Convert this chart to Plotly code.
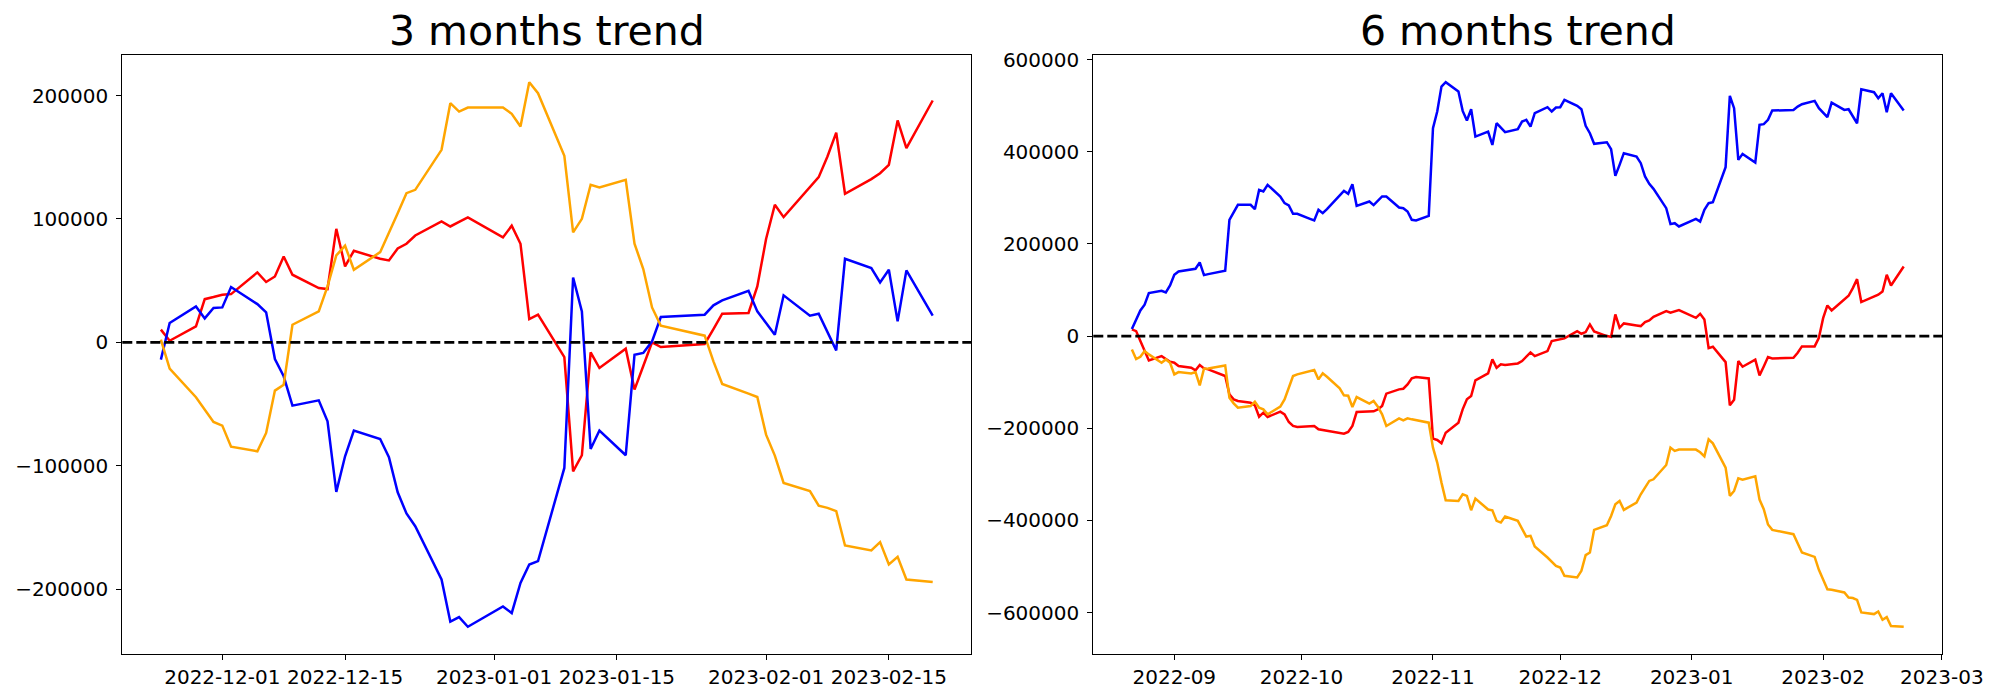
import plotly.graph_objects as go
import pandas as pd

# ---------------- data: 3 months ----------------
dates_3m = ["2022-11-24","2022-11-25","2022-11-28","2022-11-29","2022-11-30","2022-12-01","2022-12-02",
            "2022-12-05","2022-12-06","2022-12-07","2022-12-08","2022-12-09","2022-12-12","2022-12-13",
            "2022-12-14","2022-12-15","2022-12-16","2022-12-19","2022-12-20","2022-12-21","2022-12-22",
            "2022-12-23","2022-12-26","2022-12-27","2022-12-28","2022-12-29","2023-01-02","2023-01-03",
            "2023-01-04","2023-01-05","2023-01-06","2023-01-09","2023-01-10","2023-01-11","2023-01-12",
            "2023-01-13","2023-01-16","2023-01-17","2023-01-18","2023-01-19","2023-01-20","2023-01-25",
            "2023-01-26","2023-01-27","2023-01-30","2023-01-31","2023-02-01","2023-02-02","2023-02-03",
            "2023-02-06","2023-02-07","2023-02-08","2023-02-09","2023-02-10","2023-02-13","2023-02-14",
            "2023-02-15","2023-02-16","2023-02-17","2023-02-20"]
red_3m = [10300, 1300, 13000, 35000, 36700, 38600, 39100, 56700, 48900, 53400, 69600, 54800, 44000, 43200,
          92000, 61500, 74200, 67700, 66400, 76100, 79900, 86600, 98000, 93900, 97600, 101200, 85000, 94500,
          79900, 18900, 22400, -11900, -104500, -91500, -8100, -20800, -5100, -38300, -19200, 0, -3800, -1300,
          10800, 23200, 23800, 45300, 83700, 111500, 101500, 125500, 133900, 150600, 170000, 120400, 132300,
          137100, 143900, 179800, 157400, 196000]
blue_3m = [-14000, 15700, 29100, 19400, 27800, 28300, 44800, 31000, 24300, -13500, -27500, -51300, -47000, -64000,
           -121200, -92300, -71500, -78300, -93100, -121500, -138700, -149000, -192200, -226400, -222700, -230500,
           -214000, -219400, -194900, -180000, -177300, -101800, 52600, 25100, -86400, -71500, -91500, -10000,
           -8600, 800, 20500, 22400, 30000, 34000, 41800, 25100, 15700, 6200, 38100, 21600, 23200, 8900, -6500,
           67700, 60200, 48600, 58800, 17000, 58300, 21600]
orange_3m = [2200, -21300, -44500, -54500, -64500, -67500, -84500, -88300, -73400, -39100, -34300, 14300, 25100,
             45300, 70400, 78300, 58800, 73100, 88500, 104700, 120900, 123600, 156000, 193800, 187000, 190300,
             190300, 185200, 174900, 210800, 201900, 151100, 89100, 100100, 127700, 125500, 131700, 79900, 59400,
             28300, 13500, 5400, -15400, -33700, -41500, -44300, -74800, -91800, -113900, -120600, -132300,
             -134100, -136800, -164600, -168700, -161900, -180000, -173800, -192200, -194300]

# ---------------- data: 6 months ----------------
dates_6m = [
    "2022-08-22","2022-08-23","2022-08-24","2022-08-25","2022-08-26","2022-08-29","2022-08-30","2022-08-31",
    "2022-09-01","2022-09-02","2022-09-05","2022-09-06","2022-09-07","2022-09-08","2022-09-09","2022-09-12",
    "2022-09-13","2022-09-14","2022-09-15","2022-09-16","2022-09-19","2022-09-20","2022-09-21","2022-09-22",
    "2022-09-23","2022-09-26","2022-09-27","2022-09-28","2022-09-29","2022-09-30",
    "2022-10-03","2022-10-04","2022-10-05","2022-10-06","2022-10-07","2022-10-10","2022-10-11","2022-10-12",
    "2022-10-13","2022-10-14","2022-10-17","2022-10-18","2022-10-19","2022-10-20","2022-10-21","2022-10-24",
    "2022-10-25","2022-10-26","2022-10-27","2022-10-28","2022-10-31",
    "2022-11-01","2022-11-02","2022-11-03","2022-11-04","2022-11-07","2022-11-08","2022-11-09","2022-11-10",
    "2022-11-11","2022-11-14","2022-11-15","2022-11-16","2022-11-17","2022-11-18","2022-11-21","2022-11-22",
    "2022-11-23","2022-11-24","2022-11-25","2022-11-28","2022-11-29","2022-11-30",
    "2022-12-01","2022-12-02","2022-12-05","2022-12-06","2022-12-07","2022-12-08","2022-12-09","2022-12-12",
    "2022-12-13","2022-12-14","2022-12-15","2022-12-16","2022-12-19","2022-12-20","2022-12-21","2022-12-22",
    "2022-12-23","2022-12-26","2022-12-27","2022-12-28","2022-12-29",
    "2023-01-02","2023-01-03","2023-01-04","2023-01-05","2023-01-06","2023-01-09","2023-01-10","2023-01-11",
    "2023-01-12","2023-01-13","2023-01-16","2023-01-17","2023-01-18","2023-01-19","2023-01-20","2023-01-25",
    "2023-01-26","2023-01-27","2023-01-30","2023-01-31",
    "2023-02-01","2023-02-02","2023-02-03","2023-02-06","2023-02-07","2023-02-08","2023-02-09","2023-02-10",
    "2023-02-13","2023-02-14","2023-02-15","2023-02-16","2023-02-17","2023-02-20"]
blue_6m = [
    15200, 35400, 55700, 68000, 93300, 98300, 94700, 109900,
    133000, 140300, 145300, 146100, 159800, 132300, 134500, 139600, 141700, 252400, 270400, 284900, 284900,
    275500, 317400, 313800, 328300, 303000, 288500, 283500, 265400, 265400,
    254500, 250900, 274100, 266800, 275500, 304400, 315300, 308800, 329700, 282700, 292100, 284200, 293600,
    303000, 303000, 279100, 277700, 270400, 252400, 250900, 261000,
    451200, 487400, 541600, 551000, 530800, 488800, 467800, 492400, 433100, 444000, 415000, 462000, 451200,
    442500, 449000, 465700, 469300, 454800, 483700, 496800, 487400, 496000,
    496800, 512700, 499700, 492400, 456300, 440400, 417300, 420800, 405600, 347800, 371700, 397000, 389800,
    375300, 346400, 330500, 319600, 277700, 243000, 245100, 237900,
    254500, 248700, 274100, 288500, 290700, 366600, 521400, 494600, 382500, 395500, 376700, 458400, 459900,
    469300, 489500, 490900, 498200, 503300, 510500, 494600,
    485200, 475100, 506900, 490900, 492400, 476500, 462000, 535800, 529300, 516300, 527100, 485900, 527100,
    489500]
red_6m = [
    14500, 10800, -10800, -32500, -52800, -43400, -49100, -55600,
    -57800, -65000, -68700, -74400, -62900, -70100, -72300, -82400, -86700, -126500, -137300, -140900, -144500,
    -150300, -174900, -166200, -175600, -164000, -169800, -186500, -195100, -197300,
    -195900, -195100, -202400, -203800, -205200, -209600, -211800, -208100, -195100, -164800, -164000, -163300,
    -159000, -151800, -125000, -115600, -114200, -104800, -91800, -88900, -91800,
    -222600, -225500, -232700, -209600, -187900, -159000, -137300, -130100, -96100, -80900, -50600, -68700,
    -61400, -62900, -59300, -54200, -44800, -35400, -43400, -32500, -10800, -8700,
    -7200, -5100, 10800, 5100, 8700, 25300, 10100, 0, -1400, 47000, 18100, 27500, 23100, 21700, 30400, 34000,
    41900, 54200, 50600, 52800, 56400,
    39700, 48400, 36100, -26000, -23100, -56400, -150300, -138000, -54200, -66500, -51300, -85300, -65800,
    -45500, -48400, -47000, -36100, -22400, -22400, -3600,
    39000, 66500, 55700, 78800, 87500, 104100, 123600, 73800, 84600, 89700, 96900, 133000, 109900, 151100]
orange_6m = [
    -28900, -49900, -44800, -32500, -39700, -57800, -50600, -57800,
    -83100, -78100, -80900, -78100, -107000, -70800, -70100, -65000, -63600, -133700, -146000, -155400,
    -151800, -142400, -155400, -159000, -169800, -153200, -137300, -112000, -86700, -83100,
    -75900, -73700, -94000, -80900, -88200, -113500, -128600, -129400, -153900, -132300, -146700, -140900,
    -153200, -169800, -195100, -178500, -182800, -178500, -180700, -182800, -187900,
    -242100, -274600, -318000, -356300, -357700, -343300, -346900, -378000, -352700, -376500, -378000,
    -401100, -404700, -391700, -401100, -419200, -435100, -433600, -456700, -480600, -490000, -498700,
    -502300, -520300, -524000, -509500, -475500, -469800, -420600, -410500, -390300, -365000, -357700,
    -377200, -361400, -343300, -328800, -314400, -310800, -279700, -242100, -249300, -246400,
    -246400, -252200, -260900, -224000, -232700, -285500, -346900, -336100, -308600, -311500, -304300,
    -354800, -375800, -409000, -420600, -430000, -451700, -469800, -479200, -507300,
    -528300, -549600, -550600, -556500, -567400, -568400, -572400, -599800, -603400, -597700, -615800,
    -609900, -629400, -630900]

titles = ["3 months trend", "6 months trend"]
xticks_3m = ["2022-12-01", "2022-12-15", "2023-01-01", "2023-01-15", "2023-02-01", "2023-02-15"]
xticks_6m = ["2022-09-01", "2022-10-01", "2022-11-01", "2022-12-01", "2023-01-01", "2023-02-01", "2023-03-01"]
xticklabels_6m = ["2022-09", "2022-10", "2022-11", "2022-12", "2023-01", "2023-02", "2023-03"]
yticks_3m = [-200000, -100000, 0, 100000, 200000]
yticks_6m = [-600000, -400000, -200000, 0, 200000, 400000, 600000]

# ---------------- figure ----------------
FONT = "DejaVu Sans"
COL = {"red": "#ff0000", "blue": "#0000ff", "orange": "#ffa500"}

fig = go.Figure()

def add_panel(dates, series, xa, ya):
    for name, vals in series:
        fig.add_trace(go.Scatter(x=pd.to_datetime(dates), y=vals, mode="lines", name=name,
                                 line=dict(color=COL[name], width=2.5), xaxis=xa, yaxis=ya,
                                 showlegend=False, hoverinfo="skip"))

add_panel(dates_3m, [("red", red_3m), ("blue", blue_3m), ("orange", orange_3m)], "x", "y")
add_panel(dates_6m, [("red", red_6m), ("blue", blue_6m), ("orange", orange_6m)], "x2", "y2")

def xrange(dates):
    d = pd.to_datetime(dates)
    span = d.max() - d.min()
    return [d.min() - 0.05 * span, d.max() + 0.05 * span]

def yrange(*lists):
    allv = [v for l in lists for v in l]
    lo, hi = min(allv), max(allv)
    s = hi - lo
    return [lo - 0.05 * s, hi + 0.05 * s]

def fmt(v):
    return ("\u2212" + str(-v)) if v < 0 else str(v)

axis_common = dict(showline=True, linecolor="black", linewidth=1.1, mirror=True, ticks="outside",
                   ticklen=5, tickwidth=1.1, tickcolor="black", showgrid=False, zeroline=False,
                   automargin=False, tickfont=dict(family=FONT, size=20, color="black"))

ydom = [1 - 654 / 700, 1 - 55 / 700]
fig.update_layout(
    width=2000, height=700, margin=dict(l=0, r=0, t=0, b=0, autoexpand=False),
    paper_bgcolor="white", plot_bgcolor="white", showlegend=False,
    xaxis=dict(domain=[122.3 / 2000, 971.3 / 2000], type="date", range=xrange(dates_3m),
               tickvals=pd.to_datetime(xticks_3m), ticktext=xticks_3m, anchor="y", **axis_common),
    yaxis=dict(domain=ydom, range=yrange(red_3m, blue_3m, orange_3m), tickvals=yticks_3m,
               ticktext=[fmt(v) for v in yticks_3m], anchor="x", ticklabelstandoff=4, **axis_common),
    xaxis2=dict(domain=[1093.3 / 2000, 1942.3 / 2000], type="date", range=xrange(dates_6m),
                tickvals=pd.to_datetime(xticks_6m), ticktext=xticklabels_6m, anchor="y2", **axis_common),
    yaxis2=dict(domain=ydom, range=yrange(red_6m, blue_6m, orange_6m), tickvals=yticks_6m,
                ticktext=[fmt(v) for v in yticks_6m], anchor="x2", ticklabelstandoff=4, **axis_common),
)

for xr, yr in (("x domain", "y"), ("x2 domain", "y2")):
    fig.add_shape(type="line", xref=xr, yref=yr, x0=0, x1=1, y0=0, y1=0,
                  line=dict(color="black", width=2.8, dash="10px,4px"), layer="above")

for t, xc in zip(titles, [(122.3 + 971.3) / 2 / 2000, (1093.3 + 1942.3) / 2 / 2000]):
    fig.add_annotation(text=t, x=xc, y=1 - 31 / 700, xref="paper", yref="paper",
                       xanchor="center", yanchor="middle", showarrow=False,
                       font=dict(family=FONT, size=41, color="black"))

fig.write_html("out.html", config={"displayModeBar": False},
               post_script="document.body.style.margin='0';document.body.style.padding='0';")
